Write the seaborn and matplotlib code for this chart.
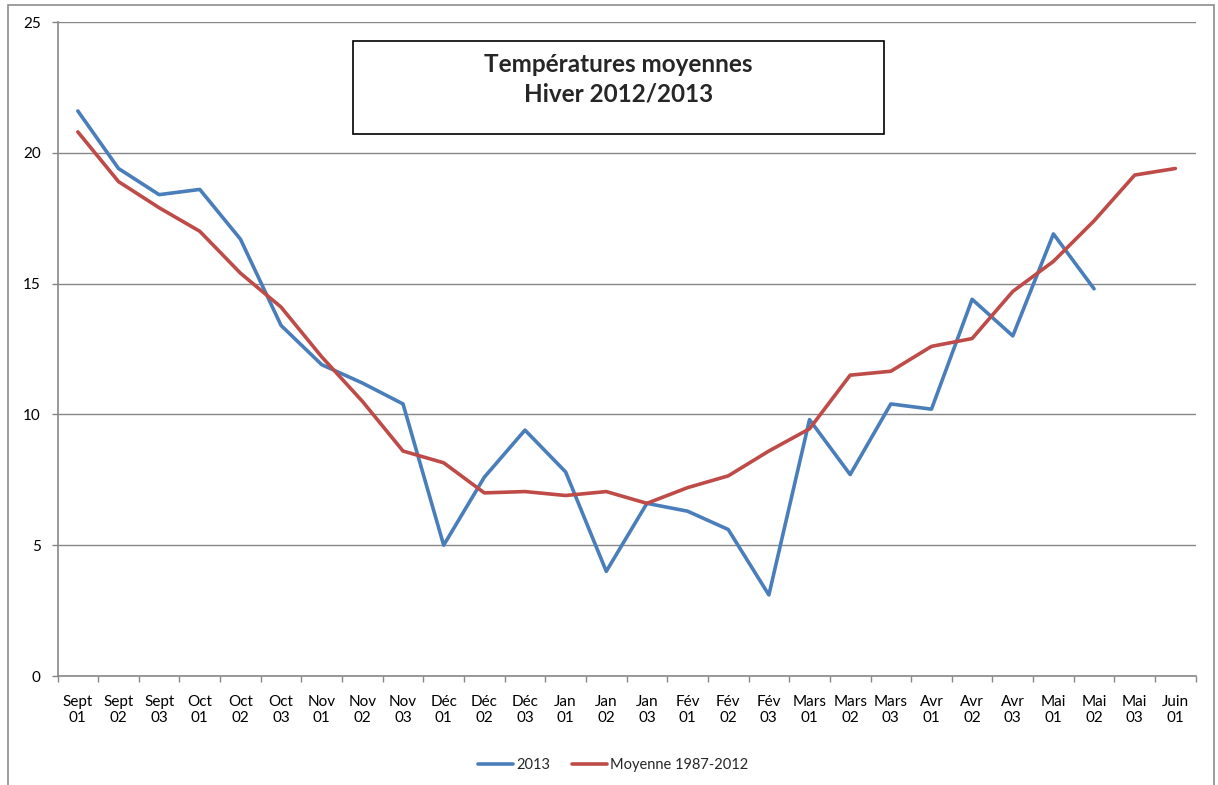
import numpy as np
import pandas as pd
import matplotlib
matplotlib.use("Agg")
import matplotlib.pyplot as plt
from matplotlib.patches import Rectangle
from matplotlib.lines import Line2D
import seaborn as sns

categories = ["Sept\n01", "Sept\n02", "Sept\n03", "Oct\n01", "Oct\n02", "Oct\n03",
              "Nov\n01", "Nov\n02", "Nov\n03", "Déc\n01", "Déc\n02", "Déc\n03",
              "Jan\n01", "Jan\n02", "Jan\n03", "Fév\n01", "Fév\n02", "Fév\n03",
              "Mars\n01", "Mars\n02", "Mars\n03", "Avr\n01", "Avr\n02", "Avr\n03",
              "Mai\n01", "Mai\n02", "Mai\n03", "Juin\n01"]

temp_2013 = [21.6, 19.4, 18.4, 18.6, 16.7, 13.4, 11.9, 11.2, 10.4, 5.0, 7.6, 9.4,
             7.8, 4.0, 6.6, 6.3, 5.6, 3.1, 9.8, 7.7, 10.4, 10.2, 14.4, 13.0,
             16.9, 14.8, np.nan, np.nan]

moyenne = [20.8, 18.9, 17.9, 17.0, 15.4, 14.1, 12.2, 10.5, 8.6, 8.15, 7.0, 7.05,
           6.9, 7.05, 6.6, 7.2, 7.65, 8.6, 9.45, 11.5, 11.65, 12.6, 12.9, 14.7,
           15.85, 17.4, 19.15, 19.4]

series_names = ["2013", "Moyenne 1987-2012"]
colors = ["#4A7EBB", "#BE4B48"]
y_ticks = [0, 5, 10, 15, 20, 25]
title_lines = ["Températures moyennes", "Hiver 2012/2013"]

sns.set_theme(style="white")
plt.rcParams["font.family"] = ["Lato", "DejaVu Sans"]

n = len(categories)
df = pd.DataFrame({
    "pos": list(range(n)) * 2,
    "value": temp_2013 + moyenne,
    "serie": [series_names[0]] * n + [series_names[1]] * n,
})

W, H = 1218, 785
fig = plt.figure(figsize=(W / 100, H / 100), dpi=100)
ax = fig.add_axes([57.5 / W, 1 - 676 / H, (1195.7 - 57.5) / W, (676 - 22) / H])

sns.lineplot(data=df, x="pos", y="value", hue="serie", hue_order=series_names,
             palette=colors, linewidth=2.6, ax=ax, legend=False, sort=False)

grid_c = "#878787"
ax.set_xlim(-0.5, n - 0.5)
ax.set_ylim(0, 25)
ax.set_yticks(y_ticks)
ax.set_yticklabels([str(v) for v in y_ticks], fontsize=11)
ax.set_xticks(range(n))
ax.set_xticklabels(categories, fontsize=11, linespacing=1.1)
ax.set_xticks(np.arange(n + 1) - 0.5, minor=True)
ax.tick_params(axis="x", which="major", length=0, pad=14, colors="black")
ax.tick_params(axis="x", which="minor", length=4, width=1, color=grid_c, direction="out", bottom=True)
ax.tick_params(axis="y", which="major", length=4, width=1, color=grid_c, pad=8, left=True, labelcolor="black")
ax.set_xlabel("")
ax.set_ylabel("")
ax.yaxis.grid(True, color=grid_c, linewidth=1)
ax.xaxis.grid(False)
for s in ["top", "right"]:
    ax.spines[s].set_visible(False)
for s in ["left", "bottom"]:
    ax.spines[s].set_color(grid_c)
    ax.spines[s].set_linewidth(1.2)

# Title box
fig.patches.append(Rectangle((353 / W, 1 - 134 / H), (884 - 353) / W, (134 - 40.5) / H,
                             transform=fig.transFigure, fill=True, facecolor="white",
                             edgecolor="black", linewidth=1.2, zorder=5))
fig.text(618.5 / W, 1 - 79 / H, "\n".join(title_lines), ha="center", va="center",
         fontsize=17.5, fontweight="bold", linespacing=1.35, zorder=6)

# Legend
handles = [Line2D([], [], color=c, linewidth=2.6) for c in colors]
fig.legend(handles, series_names, loc="center", bbox_to_anchor=(613 / W, 1 - 765 / H),
           ncol=2, frameon=False, fontsize=10.5, handlelength=2.4, handletextpad=0.2,
           columnspacing=1.5)

# Outer chart border
fig.patches.append(Rectangle((8 / W, -0.05), (1214 - 8) / W, 1.05 - 5 / H,
                             transform=fig.transFigure, fill=False, edgecolor="#8c8c8c",
                             linewidth=1.2))

fig.savefig("out.png", dpi=100)
